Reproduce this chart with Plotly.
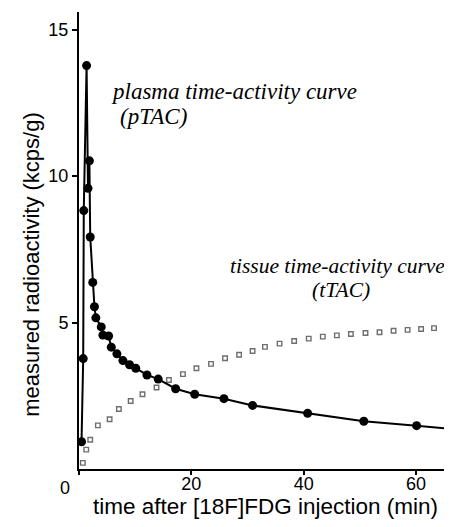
import plotly.graph_objects as go

# plasma time-activity curve (pTAC)
p_time = [0.45, 0.75, 0.85, 1.35, 1.6, 1.85, 2.0, 2.45, 2.75, 3.0, 3.96, 4.25, 5.27, 5.75,
          6.75, 7.82, 9.0, 10.1, 12.1, 14.1, 17.2, 20.6, 25.8, 30.9, 40.7, 50.7, 60.1, 70.0]
p_val = [0.93, 3.77, 8.82, 13.77, 9.58, 10.52, 7.92, 6.37, 5.54, 5.16, 4.85, 4.57, 4.54, 4.16,
         3.93, 3.70, 3.56, 3.44, 3.21, 3.07, 2.74, 2.55, 2.40, 2.17, 1.90, 1.63, 1.48, 1.30]

# tissue time-activity curve (tTAC)
t_time = [0.68, 1.29, 2.0, 3.36, 5.45, 7.1, 9.2, 11.3, 13.8, 16.0, 18.5, 20.9, 23.5, 26.0, 28.5,
          30.9, 33.1, 35.7, 38.3, 40.9, 43.4, 45.9, 48.4, 51.0, 53.5, 56.0, 58.5, 60.9, 63.2, 65.9]
t_val = [0.21, 0.66, 1.0, 1.49, 1.70, 2.05, 2.32, 2.55, 2.78, 3.04, 3.24, 3.44, 3.59, 3.78, 3.90,
         4.03, 4.17, 4.28, 4.37, 4.45, 4.52, 4.56, 4.61, 4.64, 4.67, 4.72, 4.75, 4.78, 4.81, 4.84]

x_ticks = [0, 20, 40, 60]
x_tick_text = ["", "20", "40", "60"]
y_ticks = [5, 10, 15]

fig = go.Figure()
fig.add_trace(go.Scatter(
    x=t_time, y=t_val, mode="markers",
    marker=dict(symbol="square-open", size=4.5, color="#6e6e6e", line=dict(width=1.4, color="#6e6e6e")),
    cliponaxis=True, showlegend=False))
fig.add_trace(go.Scatter(
    x=p_time, y=p_val, mode="lines+markers",
    line=dict(color="black", width=2),
    marker=dict(symbol="circle", size=9, color="black"),
    cliponaxis=True, showlegend=False))

ann_font = dict(family="Liberation Serif", size=23, color="black")
tis_font = dict(family="Liberation Serif", size=21.5, color="black")
fig.add_annotation(x=0, y=12.9, xanchor="left", xshift=30, text="<i>plasma time-activity curve</i>",
                   showarrow=False, font=ann_font)
fig.add_annotation(x=0, y=12.03, xanchor="left", xshift=39, text="<i>(pTAC)</i>",
                   showarrow=False, font=ann_font)
fig.add_annotation(x=66.4, y=6.93, xanchor="right", xshift=-5, text="<i>tissue time-activity curve</i>",
                   showarrow=False, font=tis_font)
fig.add_annotation(x=66.4, y=6.1, xanchor="right", xshift=-80, text="<i>(tTAC)</i>",
                   showarrow=False, font=tis_font)
fig.add_annotation(x=0, y=0, xref="x", yref="y", xshift=-14, yshift=-19, text="0",
                   showarrow=False, font=dict(family="Liberation Sans", size=18, color="black"))
# y-axis title (placed as rotated text, sitting slightly below the plot's centre as in the original)
fig.add_annotation(x=0, y=0.447, xref="paper", yref="paper", xanchor="center", yanchor="middle",
                   xshift=-47, textangle=-90, text="measured radioactivity (kcps/g)", showarrow=False,
                   font=dict(family="Liberation Sans", size=22, color="black"))

# the page body has an 8px default margin, so the figure is sized/offset to compensate
fig.update_layout(
    width=444, height=519,
    margin=dict(l=71, r=0, t=4, b=58),
    paper_bgcolor="white", plot_bgcolor="white",
    font=dict(family="Liberation Sans", size=18, color="black"),
    xaxis=dict(range=[0, 66.4], tickvals=x_ticks, ticktext=x_tick_text, automargin=False,
               showgrid=False, zeroline=False, showline=True, linecolor="black", linewidth=2,
               ticks="outside", ticklen=4, tickwidth=1.5, tickcolor="black", ticklabelstandoff=-7,
               title=dict(text="time after [18F]FDG injection (min)", standoff=4,
                          font=dict(size=22.5))),
    yaxis=dict(range=[0, 15.6], tickvals=y_ticks, automargin=False,
               showgrid=False, zeroline=False, showline=True, linecolor="black", linewidth=2,
               ticks="outside", ticklen=5, tickwidth=1.5, tickcolor="black"),
)

fig.write_html("out.html")
